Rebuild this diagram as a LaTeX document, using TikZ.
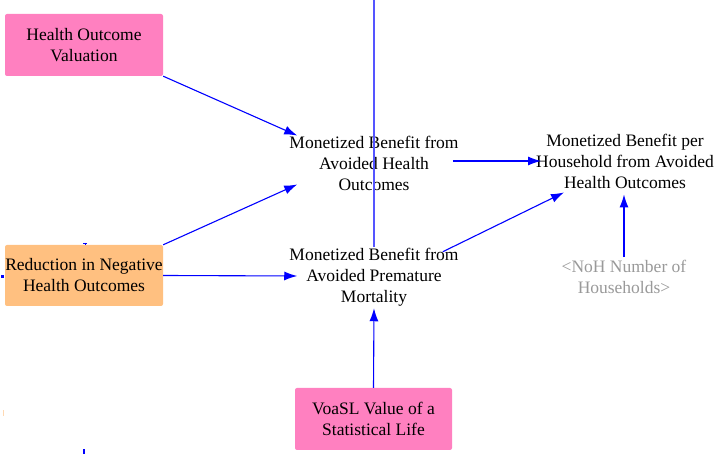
\documentclass[tikz,border=0pt]{standalone}
\usepackage{fontspec}
\setmainfont{Liberation Serif}
\usetikzlibrary{arrows.meta,calc}
\definecolor{pinkbox}{HTML}{FF80C0}
\definecolor{orangebox}{HTML}{FFC080}
\definecolor{arrowblue}{HTML}{0000FF}
\definecolor{lineblue}{HTML}{5555FF}
\definecolor{ghost}{HTML}{999999}
\begin{document}
\begin{tikzpicture}[x=1pt,y=1pt,
  every node/.style={font=\fontsize{17.5}{21}\selectfont, align=center, inner sep=0pt},
  stockbox/.style={rounded corners=2pt, minimum width=158pt, minimum height=62pt},
  var/.style={text=black},
  shadowvar/.style={text=ghost},
  link/.style={draw=arrowblue, line width=1.1pt, -{Latex[length=13pt,width=9pt]}},
  plainline/.style={draw=lineblue, line width=1.8pt}]
\useasboundingbox (0,0) rectangle (715,454);
% boxes
\node[stockbox, fill=pinkbox] (hov) at (84,409) {Health Outcome\\Valuation};
\node[stockbox, fill=orangebox, minimum height=61pt] (red) at (84,178.5) {Reduction in Negative\\Health Outcomes};
\node[stockbox, fill=pinkbox, minimum width=157pt] (voasl) at (373.5,35) {VoaSL Value of a\\Statistical Life};
% variables
\node[var] (mbaho) at (374,291) {Monetized Benefit from\\Avoided Health\\Outcomes};
\node[var] (mbapm) at (374,177) {Monetized Benefit from\\Avoided Premature\\Mortality};
\node[var] (mbph) at (625,293) {Monetized Benefit per\\Household from Avoided\\Health Outcomes};
\node[shadowvar] (noh) at (624,177) {<NoH Number of\\Households>};
% top line
\coordinate (topend) at (374,454);
\coordinate (pmtop) at (374,207);
\draw[plainline] (topend) -- (pmtop);
% connectors
\draw[link] (hov.south east) -- ($(mbaho.north west)+(8,0)$);
\draw[link] (red.north east) -- ($(mbaho.south west)+(8,6)$);
\draw[link] (red.east) -- ($(mbapm.west)+(8,1)$);
\draw[link] ($(mbaho.east)+(-6,2)$) -- ($(mbph.west)+(5,0)$);
\draw[link] ($(mbapm.north east)+(-16,-4)$) -- ($(mbph.south west)+(28,-4)$);
\draw[link] ($(noh.north)+(0,3)$) -- ($(mbph.south)+(-1,-6)$);
\draw[link] (voasl.north) -- ($(mbapm.south)+(0,-2)$);
% small clipped fragments
\coordinate (tick) at (85,211);
\draw[arrowblue, line width=0.8pt] (tick) -- ++(0,-2) ++(-2,2) -- ++(4,0);
\coordinate (sq) at (0.5,175.5);
\fill[arrowblue] (sq) rectangle ++(3,3);
\coordinate (faint) at (3,38);
\draw[orangebox!60, line width=0.6pt] (faint) -- ++(0,6);
\coordinate (btick) at (84,0);
\draw[arrowblue, line width=1.5pt] (btick) -- ++(0,5);
\end{tikzpicture}
\end{document}
